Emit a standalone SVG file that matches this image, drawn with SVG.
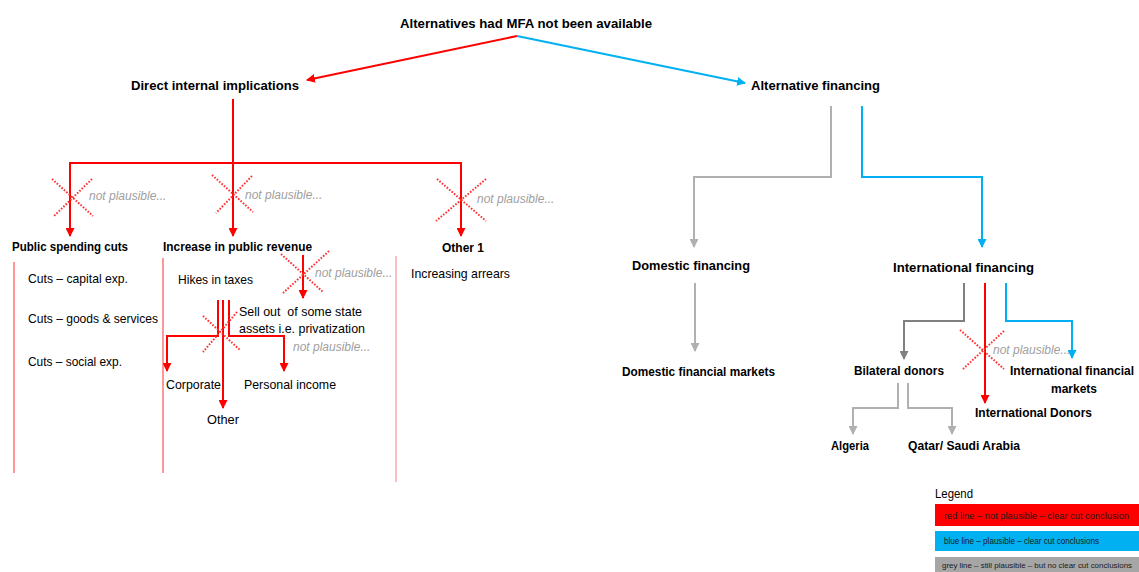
<svg xmlns="http://www.w3.org/2000/svg" width="1139" height="572" viewBox="0 0 1139 572">
<style>
  text { font-family: "Liberation Sans", Arial, sans-serif; fill: #000; }
  .b { font-weight: bold; font-size: 13px; }
  .r { font-size: 13px; }
  .np { font-size: 12px; font-style: italic; fill: #a0a0a0; }
  .red { stroke: #ff0000; stroke-width: 2; fill: none; }
  .blue { stroke: #00b0f0; stroke-width: 2; fill: none; }
  .grey { stroke: #b0b0b0; stroke-width: 2; fill: none; }
  .dgrey { stroke: #808080; stroke-width: 2; fill: none; }
  .box { stroke: #ff3030; stroke-width: 1; fill: none; }
  .x { stroke: #ff3030; stroke-width: 2; stroke-dasharray: 1.6 1.6; fill: none; }
  .lg { font-size: 9px; fill: #1a1a1a; }
</style>
<defs>
  <marker id="ar" markerUnits="userSpaceOnUse" markerWidth="9" markerHeight="9" refX="8" refY="4.5" orient="auto"><path d="M0,0 L9,4.5 L0,9 z" fill="#ff0000"/></marker>
  <marker id="ab" markerUnits="userSpaceOnUse" markerWidth="9" markerHeight="9" refX="8" refY="4.5" orient="auto"><path d="M0,0 L9,4.5 L0,9 z" fill="#00b0f0"/></marker>
  <marker id="ag" markerUnits="userSpaceOnUse" markerWidth="9" markerHeight="9" refX="8" refY="4.5" orient="auto"><path d="M0,0 L9,4.5 L0,9 z" fill="#b0b0b0"/></marker>
  <marker id="ad" markerUnits="userSpaceOnUse" markerWidth="9" markerHeight="9" refX="8" refY="4.5" orient="auto"><path d="M0,0 L9,4.5 L0,9 z" fill="#808080"/></marker>
</defs>
<rect width="1139" height="572" fill="#ffffff"/>

<g id="connectors">
  <path class="red" d="M517,36 L307,80" marker-end="url(#ar)"/>
  <path class="blue" d="M517,36 L745,83" marker-end="url(#ab)"/>
  <path class="red" d="M233,99 L233,236" marker-end="url(#ar)"/>
  <path class="red" d="M233,163 L70,163 L70,236" marker-end="url(#ar)"/>
  <path class="red" d="M233,163 L461,163 L461,236" marker-end="url(#ar)"/>
  <path class="red" d="M303,255 L303,298" marker-end="url(#ar)"/>
  <path class="red" d="M218,300 L218,336 L167,336 L167,371" marker-end="url(#ar)"/>
  <path class="red" d="M223,300 L223,408" marker-end="url(#ar)"/>
  <path class="red" d="M229,300 L229,336 L284,336 L284,371" marker-end="url(#ar)"/>
  <path class="grey" d="M831,106 L831,177 L694,177 L694,247" marker-end="url(#ag)"/>
  <path class="blue" d="M862,106 L862,177 L982,177 L982,247" marker-end="url(#ab)"/>
  <path class="grey" d="M695,283 L695,351" marker-end="url(#ag)"/>
  <path class="dgrey" d="M964,283 L964,321 L904,321 L904,359" marker-end="url(#ad)"/>
  <path class="red" d="M985,283 L985,403" marker-end="url(#ar)"/>
  <path class="blue" d="M1006,283 L1006,321 L1072,321 L1072,358" marker-end="url(#ab)"/>
  <path class="grey" d="M898,383 L898,408 L853,408 L853,434" marker-end="url(#ag)"/>
  <path class="grey" d="M908,383 L908,408 L952,408 L952,434" marker-end="url(#ag)"/>
</g>

<g id="column-lines">
  <line class="box" x1="14" y1="262" x2="14" y2="473"/>
  <line class="box" x1="163" y1="258" x2="163" y2="473"/>
  <line class="box" x1="396" y1="256" x2="396" y2="482" style="stroke:#f08080"/>
</g>

<g id="not-plausible-marks">
  <g id="np1"><path class="x" d="M52,179 L93,216 M92,179 L53,217"/><text class="np" x="89" y="200">not plausible...</text></g>
  <g id="np2"><path class="x" d="M212,175 L253,212 M252,176 L216,213"/><text class="np" x="245" y="199">not plausible...</text></g>
  <g id="np3"><path class="x" d="M437,179 L486,221 M486,179 L436,221"/><text class="np" x="477" y="203">not plausible...</text></g>
  <g id="np4"><path class="x" d="M281,254 L323,292 M329,251 L283,293"/><text class="np" x="315" y="277">not plausible...</text></g>
  <g id="np5"><path class="x" d="M203,316 L240,350 M237,312 L203,352"/><text class="np" x="293" y="351">not plausible...</text></g>
  <g id="np6"><path class="x" d="M960,330 L1004,369 M1004,331 L963,369"/><text class="np" x="993" y="354">not plausible...</text></g>
</g>

<g id="root"><text class="b" x="400" y="28" textLength="252" lengthAdjust="spacingAndGlyphs">Alternatives had MFA not been available</text></g>
<g id="direct"><text class="b" x="131" y="90" textLength="168" lengthAdjust="spacingAndGlyphs">Direct internal implications</text></g>
<g id="altfin"><text class="b" x="751" y="90" textLength="129" lengthAdjust="spacingAndGlyphs">Alternative financing</text></g>

<g id="spending">
  <text class="b" x="12" y="251" textLength="116" lengthAdjust="spacingAndGlyphs">Public spending cuts</text>
  <text class="r" x="28" y="283" textLength="100" lengthAdjust="spacingAndGlyphs">Cuts – capital exp.</text>
  <text class="r" x="28" y="323" textLength="130" lengthAdjust="spacingAndGlyphs">Cuts – goods &amp; services</text>
  <text class="r" x="28" y="366" textLength="94" lengthAdjust="spacingAndGlyphs">Cuts – social exp.</text>
</g>
<g id="revenue">
  <text class="b" x="163" y="251" textLength="149" lengthAdjust="spacingAndGlyphs">Increase in public revenue</text>
</g>
<g id="hikes"><text class="r" x="178" y="284" textLength="75" lengthAdjust="spacingAndGlyphs">Hikes in taxes</text></g>
<g id="sellout">
  <text class="r" x="239" y="316" xml:space="preserve" textLength="123" lengthAdjust="spacingAndGlyphs">Sell out  of some state</text>
  <text class="r" x="239" y="333" textLength="126" lengthAdjust="spacingAndGlyphs">assets i.e. privatization</text>
</g>
<g id="corporate"><text class="r" x="166" y="389" textLength="55" lengthAdjust="spacingAndGlyphs">Corporate</text></g>
<g id="personal"><text class="r" x="244" y="389" textLength="92" lengthAdjust="spacingAndGlyphs">Personal income</text></g>
<g id="other"><text class="r" x="207" y="424" textLength="32" lengthAdjust="spacingAndGlyphs">Other</text></g>
<g id="other1">
  <text class="b" x="442" y="252" textLength="42" lengthAdjust="spacingAndGlyphs">Other 1</text>
  <text class="r" x="411" y="278" textLength="99" lengthAdjust="spacingAndGlyphs">Increasing arrears</text>
</g>

<g id="domestic"><text class="b" x="632" y="270" textLength="118" lengthAdjust="spacingAndGlyphs">Domestic financing</text></g>
<g id="international"><text class="b" x="893" y="272" textLength="141" lengthAdjust="spacingAndGlyphs">International financing</text></g>
<g id="domestic-markets"><text class="b" x="622" y="376" textLength="153" lengthAdjust="spacingAndGlyphs">Domestic financial markets</text></g>
<g id="bilateral"><text class="b" x="854" y="375" textLength="90" lengthAdjust="spacingAndGlyphs">Bilateral donors</text></g>
<g id="int-markets">
  <text class="b" x="1010" y="375" style="font-size:12px" textLength="124" lengthAdjust="spacingAndGlyphs">International financial</text>
  <text class="b" x="1051" y="393" textLength="46" lengthAdjust="spacingAndGlyphs">markets</text>
</g>
<g id="int-donors"><text class="b" x="975" y="417" textLength="117" lengthAdjust="spacingAndGlyphs">International Donors</text></g>
<g id="algeria"><text class="b" x="831" y="450" textLength="38" lengthAdjust="spacingAndGlyphs">Algeria</text></g>
<g id="qatar"><text class="b" x="908" y="450" textLength="112" lengthAdjust="spacingAndGlyphs">Qatar/ Saudi Arabia</text></g>

<g id="legend">
  <text x="935" y="498" style="font-size:12px" textLength="38" lengthAdjust="spacingAndGlyphs">Legend</text>
  <rect x="935" y="504" width="204" height="22" fill="#ff0000"/>
  <text class="lg" x="944" y="519" textLength="185" lengthAdjust="spacingAndGlyphs">red line – not plausible – clear cut conclusion</text>
  <rect x="935" y="531" width="204" height="20" fill="#00b0f0"/>
  <text class="lg" x="944" y="544" textLength="155" lengthAdjust="spacingAndGlyphs">blue line – plausible – clear cut conclusions</text>
  <rect x="935" y="557" width="204" height="15" fill="#a6a6a6"/>
  <text class="lg" x="942" y="568" style="font-size:8px" textLength="190" lengthAdjust="spacingAndGlyphs">grey line – still plausible – but no clear cut conclusions</text>
</g>
</svg>
